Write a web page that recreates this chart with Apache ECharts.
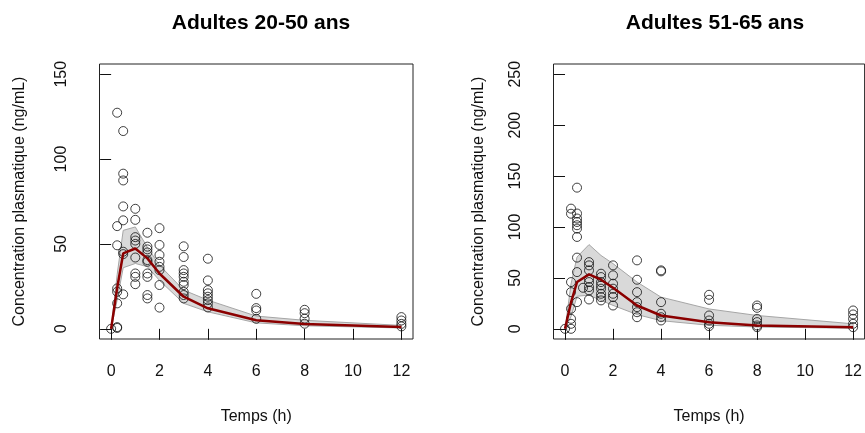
<!DOCTYPE html>
<html>
<head>
<meta charset="utf-8">
<script src="https://cdn.jsdelivr.net/npm/echarts@6/dist/echarts.min.js"></script>
<style>
html,body{margin:0;padding:0;background:#fff;}
#chart{width:865px;height:433px;}
</style>
</head>
<body>
<div id="chart"></div>
<script>
// ---------- DATA ----------
const panelTitles = ['Adultes 20-50 ans', 'Adultes 51-65 ans'];
const xAxisTitle = 'Temps (h)';
const yAxisTitle = 'Concentration plasmatique (ng/mL)';
const xTicks = [0, 2, 4, 6, 8, 10, 12];
const yTicksLeft = [0, 50, 100, 150];
const yTicksRight = [0, 50, 100, 150, 200, 250];

// Observations, adults 20-50 (time h, concentration ng/mL)
const obsTime20 = [
  0, 0.25, 0.25,
  0.25, 0.25, 0.25, 0.25, 0.25, 0.25,
  0.5, 0.5, 0.5, 0.5, 0.5, 0.5, 0.5, 0.5,
  1, 1, 1, 1, 1, 1, 1, 1, 1,
  1.5, 1.5, 1.5, 1.5, 1.5, 1.5, 1.5, 1.5, 1.5, 1.5,
  2, 2, 2, 2, 2, 2, 2, 2,
  3, 3, 3, 3, 3, 3, 3, 3, 3, 3,
  4, 4, 4, 4, 4, 4, 4, 4,
  6, 6, 6, 6,
  8, 8, 8, 8,
  12, 12, 12, 12
];
const obsConc20 = [
  0, 1, 0.5,
  127.3, 60.5, 49.2, 23.8, 21.8, 15,
  116.5, 91.4, 87.4, 72.1, 63.9, 45.4, 44, 20.3,
  70.7, 64.2, 54, 52, 50, 42, 32.6, 30.6, 26.3,
  56.6, 48.4, 46.8, 45, 40.5, 39.5, 32.6, 30.6, 19.9, 17.9,
  59.3, 49.4, 43.5, 39.5, 36.5, 34.6, 25.8, 12.5,
  48.6, 42.3, 34.6, 32.6, 30.6, 27.7, 25.8, 21.8, 19.9, 17.9,
  41.3, 28.5, 22.8, 20.9, 18.9, 16.9, 15, 12.6,
  20.6, 12.2, 10.8, 5.9,
  11.2, 9.2, 6, 3,
  6.9, 4.9, 2.9, 1.4
];

// Observations, adults 51-65
const obsTime51 = [
  0,
  0.25, 0.25, 0.25, 0.25, 0.25, 0.25, 0.25, 0.25,
  0.5, 0.5, 0.5, 0.5, 0.5, 0.5, 0.5, 0.5, 0.5, 0.5,
  0.75,
  1, 1, 1, 1, 1, 1, 1, 1,
  1.5, 1.5, 1.5, 1.5, 1.5, 1.5, 1.5, 1.5,
  2, 2, 2, 2, 2, 2, 2,
  3, 3, 3, 3, 3, 3, 3,
  4, 4, 4, 4, 4, 4,
  6, 6, 6, 6, 6, 6,
  8, 8, 8, 8, 8, 8,
  12, 12, 12, 12, 12
];
const obsConc51 = [
  0,
  118, 113, 45.9, 36, 19.7, 9.8, 4.9, 0,
  138.6, 113.2, 108.3, 104.9, 101.7, 98.4, 90.2, 69.9, 55.7, 26.2,
  40.3,
  65.5, 62.3, 57.4, 49.2, 45.9, 41, 37.7, 28.8,
  54.1, 50.8, 45.9, 42.6, 39.4, 34.4, 31.1, 27.9,
  62.3, 52.5, 44.3, 39.4, 34.4, 31.1, 22.9,
  67.2, 48.2, 36, 26.2, 21.3, 16.3, 11.4,
  57.4, 56.4, 26.2, 14.8, 11.4, 8.2,
  33.4, 28.5, 13.1, 8.2, 4.9, 2.6,
  22.9, 20.6, 9.8, 6.6, 3.3, 1.6,
  18, 14.1, 9.8, 4.9, 1.6
];

// Predicted median and prediction interval
const predTime = [0, 0.25, 0.5, 1, 1.5, 2, 3, 4, 6, 8, 12];
const median20 = [0, 24, 44.4, 47.3, 41.5, 32.6, 18.9, 12.1, 5, 2.9, 1];
const lower20  = [0, 17, 36, 38.5, 36.6, 28.5, 15, 10, 3.5, 1.8, 0.5];
const upper20  = [0, 32, 58, 60, 48, 37.5, 22.8, 16.9, 7.5, 5, 2];
const median51 = [0, 26, 45.9, 53.4, 48.2, 40.3, 22.9, 13.1, 6.5, 3.2, 1.6];
const lower51  = [0, 12, 32, 33, 28, 23, 14, 8, 3.5, 1.8, 0.6];
const upper51  = [0, 44, 70.5, 82.7, 72, 64, 45.9, 31.1, 19.5, 13.1, 4.9];

// ---------- CHART ----------
const FONT = '"Liberation Sans", Arial, Helvetica, sans-serif';
const chart = echarts.init(document.getElementById('chart'), null, {renderer: 'canvas'});

function zip(a, b) { return a.map((v, i) => [v, b[i]]); }

function bandSeries(idx, lower, upper) {
  return {
    type: 'custom',
    xAxisIndex: idx, yAxisIndex: idx,
    data: [[predTime[0], lower[0]]],
    silent: true,
    z: 1,
    renderItem: function (params, api) {
      const pts = [];
      for (let i = 0; i < predTime.length; i++) pts.push(api.coord([predTime[i], upper[i]]));
      for (let i = predTime.length - 1; i >= 0; i--) pts.push(api.coord([predTime[i], lower[i]]));
      return {
        type: 'polygon',
        shape: {points: pts},
        style: {fill: '#d9d9d9', stroke: '#a6a6a6', lineWidth: 1}
      };
    }
  };
}

function scatterSeries(idx, t, c) {
  return {
    type: 'scatter', xAxisIndex: idx, yAxisIndex: idx,
    data: zip(t, c),
    symbol: 'circle', symbolSize: 9,
    itemStyle: {color: 'rgba(0,0,0,0)', borderColor: '#111', borderWidth: 1},
    z: 2, silent: true
  };
}

function lineSeries(idx, med) {
  return {
    type: 'line', xAxisIndex: idx, yAxisIndex: idx,
    data: zip(predTime, med),
    showSymbol: false, symbol: 'none',
    lineStyle: {color: '#8b0000', width: 2.5},
    z: 3, silent: true
  };
}

function xAxisCfg(idx) {
  return {
    gridIndex: idx, type: 'value', min: -0.48, max: 12.48,
    axisLine: {show: false},
    axisTick: {show: true, length: 11, customValues: xTicks, lineStyle: {color: '#111', width: 1}},
    axisLabel: {customValues: xTicks, margin: 25, fontSize: 16, color: '#111', fontFamily: FONT},
    splitLine: {show: false},
    name: xAxisTitle, nameLocation: 'middle', nameGap: 70,
    nameTextStyle: {fontSize: 16, color: '#111', fontFamily: FONT}
  };
}

function yAxisCfg(idx, min, max, ticks, gap) {
  return {
    gridIndex: idx, type: 'value', min: min, max: max,
    axisLine: {show: false},
    axisTick: {show: true, length: 11, customValues: ticks, lineStyle: {color: '#111', width: 1}},
    axisLabel: {customValues: ticks, rotate: 90, margin: 30, fontSize: 16, color: '#111', fontFamily: FONT},
    splitLine: {show: false},
    name: yAxisTitle, nameLocation: 'middle', nameRotate: 90, nameGap: gap,
    nameTextStyle: {fontSize: 16, color: '#111', fontFamily: FONT}
  };
}

chart.setOption({
  animation: false,
  backgroundColor: '#fff',
  title: [
    {text: panelTitles[0], left: 256, top: 8, textAlign: 'center',
     textStyle: {fontSize: 21, fontWeight: 'bold', color: '#000', fontFamily: FONT}},
    {text: panelTitles[1], left: 710, top: 8, textAlign: 'center',
     textStyle: {fontSize: 21, fontWeight: 'bold', color: '#000', fontFamily: FONT}}
  ],
  grid: [
    {left: 99.5, top: 64, width: 313.5, height: 275, show: true, borderColor: '#222', borderWidth: 1, backgroundColor: 'transparent'},
    {left: 553.5, top: 64, width: 314, height: 275, show: true, borderColor: '#222', borderWidth: 1, backgroundColor: 'transparent'}
  ],
  xAxis: [xAxisCfg(0), xAxisCfg(1)],
  yAxis: [yAxisCfg(0, -6, 156, yTicksLeft, 72), yAxisCfg(1, -10, 260, yTicksRight, 67)],
  series: [
    bandSeries(0, lower20, upper20),
    scatterSeries(0, obsTime20, obsConc20),
    lineSeries(0, median20),
    bandSeries(1, lower51, upper51),
    scatterSeries(1, obsTime51, obsConc51),
    lineSeries(1, median51)
  ]
});
</script>
</body>
</html>
